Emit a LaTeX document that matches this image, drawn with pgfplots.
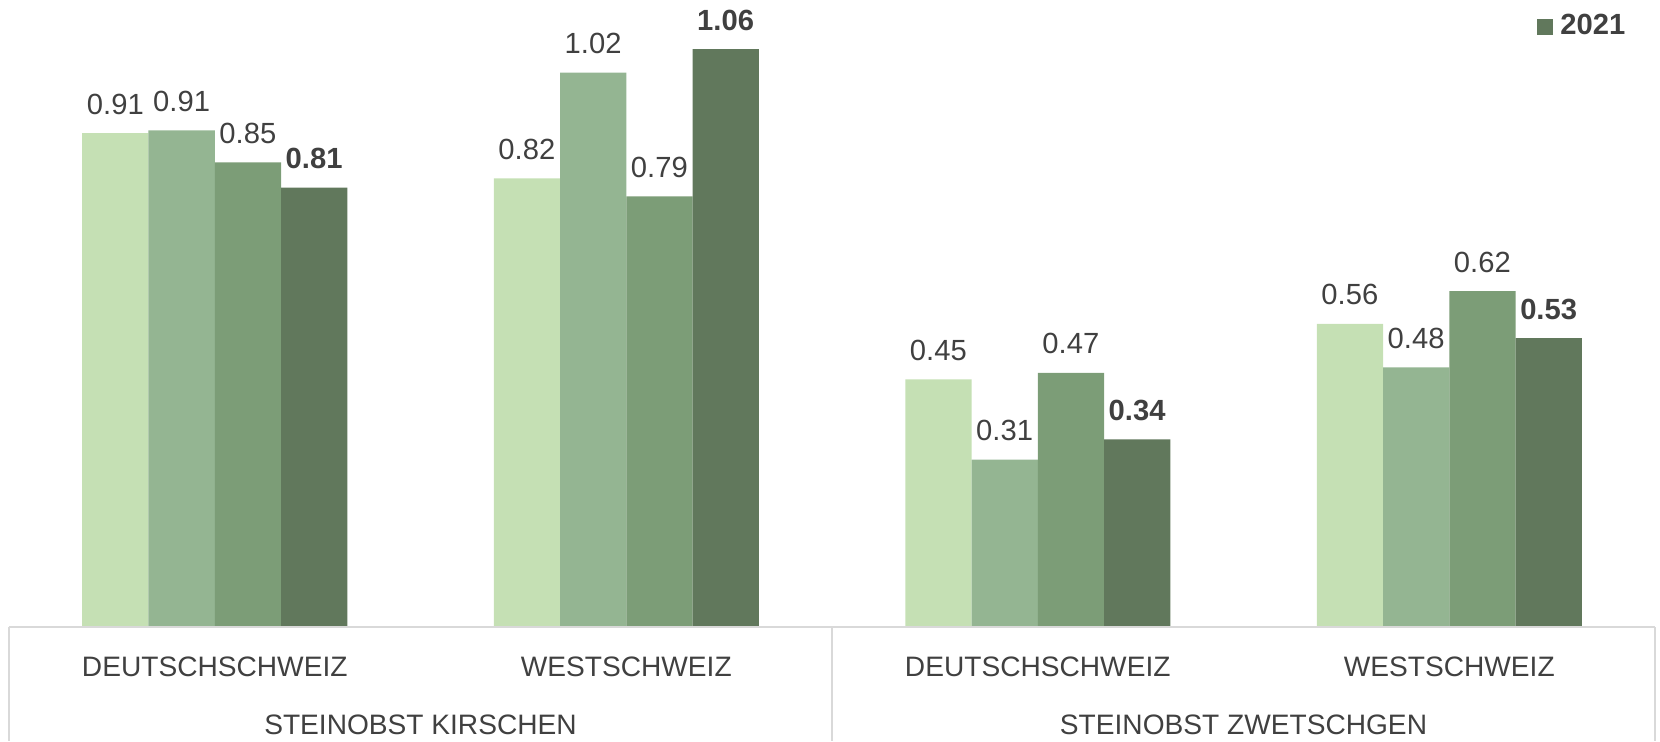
\documentclass[border=0pt]{standalone}
\usepackage{pgfplots}
\pgfplotsset{compat=1.18}
\usepackage{fontspec}
\setmainfont{Liberation Sans}
\definecolor{c1}{HTML}{C5E0B4}
\definecolor{c2}{HTML}{94B592}
\definecolor{c3}{HTML}{7C9D77}
\definecolor{c4}{HTML}{61785C}
\definecolor{txt}{HTML}{404040}
\definecolor{linec}{HTML}{D9D9D9}
\newcommand{\lblfont}{\fontsize{8.3}{10}\selectfont}
\newcommand{\catfont}{\fontsize{8.0}{10}\selectfont}
\begin{document}
\begin{tikzpicture}
\useasboundingbox (0,0) rectangle (16.6,7.41);
\begin{axis}[
  at={(0.09cm,1.14cm)}, anchor=south west,
  width=16.46cm, height=6.27cm, scale only axis,
  xmin=-0.5, xmax=3.5, ymin=0, ymax=1.15,
  axis line style={draw=none},
  ytick=\empty,
  xtick={0,1,2,3},
  xticklabels={DEUTSCHSCHWEIZ,WESTSCHWEIZ,DEUTSCHSCHWEIZ,WESTSCHWEIZ},
  major tick length=0pt,
  xticklabel style={anchor=center, yshift=-0.40cm, font=\catfont, text=txt},
  ybar, bar width=0.161,
  nodes near coords,
  every node near coord/.append style={font=\lblfont, text=txt, inner sep=0pt, anchor=south, yshift=0.18cm},
  /pgf/number format/fixed,
  /pgf/number format/fixed zerofill,
  /pgf/number format/precision=2,
  /pgf/number format/assume math mode=true,
  clip=false,
  legend style={draw=none, fill=none, at={(1,1)}, anchor=north east, xshift=-0.22cm, yshift=-0.06cm, font=\lblfont\bfseries, text=txt, inner sep=0pt},
]
\addplot[fill=c1, draw=none, bar shift=-0.2415, forget plot] coordinates {(0,0.906) (1,0.823) (2,0.454) (3,0.556)};
\addplot[fill=c2, draw=none, bar shift=-0.0805, forget plot] coordinates {(0,0.911) (1,1.017) (2,0.307) (3,0.476)};
\addplot[fill=c3, draw=none, bar shift=0.0805, forget plot] coordinates {(0,0.852) (1,0.79) (2,0.466) (3,0.616)};
\addplot[fill=c4, draw=none, bar shift=0.2415,
  every node near coord/.append style={font=\lblfont\bfseries},
  legend image code/.code={\fill[c4] (0cm,-0.08cm) rectangle (0.16cm,0.08cm);}]
  coordinates {(0,0.806) (1,1.06) (2,0.344) (3,0.53)};
\addlegendentry{2021}
\draw[linec, line width=0.5pt] (axis cs:-0.5,0) -- (axis cs:3.5,0);
\draw[linec, line width=0.5pt] (axis cs:-0.5,0) -- ([yshift=-1.14cm]axis cs:-0.5,0);
\draw[linec, line width=0.5pt] (axis cs:1.5,0) -- ([yshift=-1.14cm]axis cs:1.5,0);
\draw[linec, line width=0.5pt] (axis cs:3.5,0) -- ([yshift=-1.14cm]axis cs:3.5,0);
\node[font=\catfont, text=txt, anchor=center] at ([yshift=-0.98cm]axis cs:0.5,0) {STEINOBST KIRSCHEN};
\node[font=\catfont, text=txt, anchor=center] at ([yshift=-0.98cm]axis cs:2.5,0) {STEINOBST ZWETSCHGEN};
\end{axis}
\end{tikzpicture}
\end{document}
